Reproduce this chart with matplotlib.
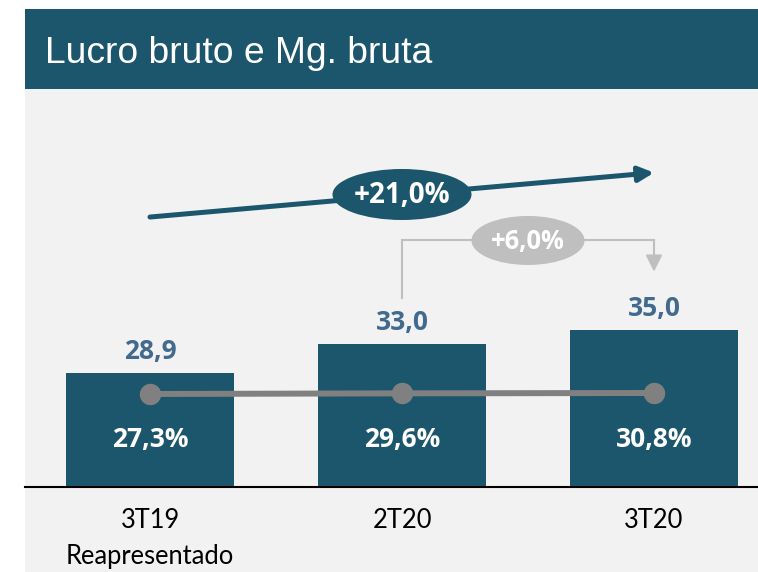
import matplotlib
matplotlib.use("Agg")
import matplotlib.pyplot as plt
from matplotlib.patches import Rectangle, Ellipse, FancyArrowPatch
from matplotlib.transforms import blended_transform_factory

# Data
categories = ["3T19", "2T20", "3T20"]
sub_labels = ["Reapresentado", "", ""]
lucro_bruto = [28.9, 33.0, 35.0]      # R$ mi
margem_bruta = [27.3, 29.6, 30.8]     # %
growth_year = "+21,0%"
growth_quarter = "+6,0%"
title = "Lucro bruto e Mg. bruta"

# Colours
DARK = "#1C566C"
VALUE_BLUE = "#416A8E"
LINE_GRAY = "#808080"
LIGHT_GRAY = "#BFBFBF"
PANEL = "#F2F2F2"
NUM_FONT = "Open Sans"
CAT_FONT = "Lato"

W, H = 758, 572


def fx(px):
    return px / W


def fy(py):
    return 1 - py / H


fig = plt.figure(figsize=(W / 100, H / 100), dpi=100)
fig.patch.set_facecolor("white")

# background panel and title bar
fig.add_artist(Rectangle((fx(25), 0), 1 - fx(25), fy(89.3), transform=fig.transFigure,
                         facecolor=PANEL, edgecolor="none", zorder=0))
fig.add_artist(Rectangle((fx(25), fy(89.3)), 1 - fx(25), fy(9) - fy(89.3), transform=fig.transFigure,
                         facecolor=DARK, edgecolor="none", zorder=0))
fig.text(fx(45), fy(63.3), title, color="white", fontsize=26.8, family="Liberation Sans",
         va="baseline", ha="left")

# main axes
ax = fig.add_axes([fx(25), fy(487), 1 - fx(25), fy(90) - fy(487)])
ax.set_facecolor("none")
x = list(range(len(categories)))
ax.bar(x, lucro_bruto, width=168 / 252, color=DARK, zorder=2)
ax.set_xlim((25 - 150) / 252, (758 - 150) / 252)
ax.set_ylim(12.6, 12.6 + 397 / 7.02)
for s in ["top", "right", "left"]:
    ax.spines[s].set_visible(False)
ax.spines["bottom"].set_color("black")
ax.spines["bottom"].set_linewidth(1.5)
ax.set_xticks([])
ax.set_yticks([])

blend = blended_transform_factory(ax.transData, ax.transAxes)

# value labels above bars
for i, v in zip(x, lucro_bruto):
    ax.annotate(f"{v:.1f}".replace(".", ","), (i, v), xytext=(0, 10), textcoords="offset points",
                ha="center", va="baseline", fontsize=19, fontweight="bold",
                color=VALUE_BLUE, family=NUM_FONT, annotation_clip=False)

# margin labels inside bars
for i, m in zip(x, margem_bruta):
    ax.text(i, 0.1, f"{m:.1f}%".replace(".", ","), transform=blend, ha="center", va="baseline",
            fontsize=19, fontweight="bold", color="white", family=NUM_FONT, zorder=3)

# category labels
for i, (c, s) in enumerate(zip(categories, sub_labels)):
    ax.text(i, -0.104, c, transform=blend, ha="center", va="baseline", fontsize=18.4,
            color="black", family=CAT_FONT, clip_on=False)
    if s:
        ax.text(i, -0.1935, s, transform=blend, ha="center", va="baseline", fontsize=18.4,
                color="black", family=CAT_FONT, clip_on=False)

# margin line (secondary axis, nearly flat)
ax2 = ax.twinx()
ax2.set_ylim(-298.2, 1091.3)
ax2.plot(x, margem_bruta, color=LINE_GRAY, lw=4.3, marker="o", markersize=14.4, zorder=3)
ax2.axis("off")

# year-over-year arrow
arr = FancyArrowPatch((0, 0.680), (2, 0.7917), transform=blend,
                      arrowstyle="-|>,head_length=9,head_width=4.5", mutation_scale=1,
                      lw=3.6, color=DARK, shrinkA=0, shrinkB=0, zorder=4)
ax.add_patch(arr)
ax.add_patch(Ellipse((1, 0.7368), 139 / 252, 51 / 397, transform=blend,
                     facecolor=DARK, edgecolor="none", zorder=5))
ax.text(1, 0.7146, growth_year, transform=blend, ha="center", va="baseline", fontsize=20,
        fontweight="bold", color="white", family=NUM_FONT, zorder=6)

# quarter-over-quarter connector
ax.plot([1, 1, 2], [0.476, 0.622, 0.622], transform=blend, color=LIGHT_GRAY, lw=1.5,
        solid_joinstyle="miter", zorder=4)
arr2 = FancyArrowPatch((2, 0.622), (2, 0.5423), transform=blend,
                       arrowstyle="-|>,head_length=10,head_width=5", mutation_scale=1,
                       lw=1.5, color=LIGHT_GRAY, shrinkA=0, shrinkB=0, zorder=4)
ax.add_patch(arr2)
ax.add_patch(Ellipse((1.5, 0.621), 113 / 252, 49 / 397, transform=blend,
                     facecolor=LIGHT_GRAY, edgecolor="none", zorder=5))
ax.text(1.5, 0.5987, growth_quarter, transform=blend, ha="center", va="baseline", fontsize=18.4,
        fontweight="bold", color="white", family=NUM_FONT, zorder=6)

fig.savefig("out.png", dpi=100)
